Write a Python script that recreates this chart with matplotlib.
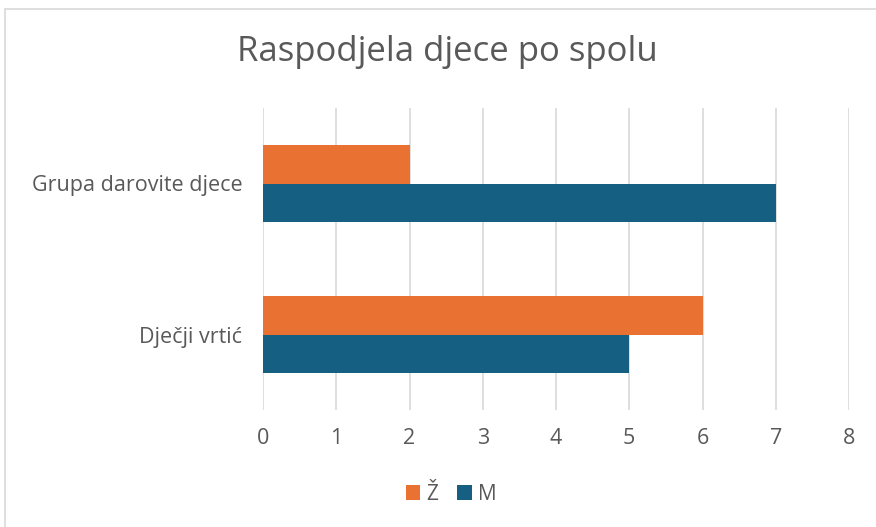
import matplotlib.pyplot as plt
import numpy as np
from matplotlib.patches import Rectangle

plt.rcParams['font.family'] = ['Open Sans', 'DejaVu Sans']

categories = ['Dječji vrtić', 'Grupa darovite djece']
zenske = [6, 2]
muski = [5, 7]
ticks = [0, 1, 2, 3, 4, 5, 6, 7, 8]

orange = '#E97132'
blue = '#156082'
txt = '#595959'

fig = plt.figure(figsize=(8.76, 5.27), dpi=100)
ax = fig.add_axes([263 / 876, 1 - 410 / 527, (849 - 263) / 876, (410 - 108) / 527])

y = np.arange(len(categories))
h = 0.257
ax.barh(y + h / 2, zenske, height=h, color=orange, label='Ž', zorder=3)
ax.barh(y - h / 2, muski, height=h, color=blue, label='M', zorder=3)

ax.set_xlim(0, 8)
ax.set_ylim(-0.5, 1.5)
ax.set_xticks(ticks)
ax.set_yticks(y)
ax.set_yticklabels(categories)
ax.grid(axis='x', color='#d9d9d9', linewidth=1.2, zorder=0)
for s in ax.spines.values():
    s.set_visible(False)
ax.tick_params(axis='both', length=0, labelsize=15.5, colors=txt)
ax.tick_params(axis='x', pad=13)
ax.tick_params(axis='y', pad=15)

fig.text(447 / 876, 1 - 52 / 527, 'Raspodjela djece po spolu', ha='center', va='center',
         fontsize=25, color=txt)

leg = fig.legend(loc='center', bbox_to_anchor=(451 / 876, 1 - 494 / 527), ncol=2, frameon=False,
                 fontsize=15, handlelength=0.7, handleheight=0.7, handletextpad=0.3,
                 columnspacing=0.9)
for t in leg.get_texts():
    t.set_color(txt)

fig.patches.append(Rectangle((5 / 876, -0.1), 1, 1.1 - 9 / 527, transform=fig.transFigure,
                             fill=False, edgecolor='#d9d9d9', linewidth=1.2))

fig.savefig('out.png', dpi=100)
